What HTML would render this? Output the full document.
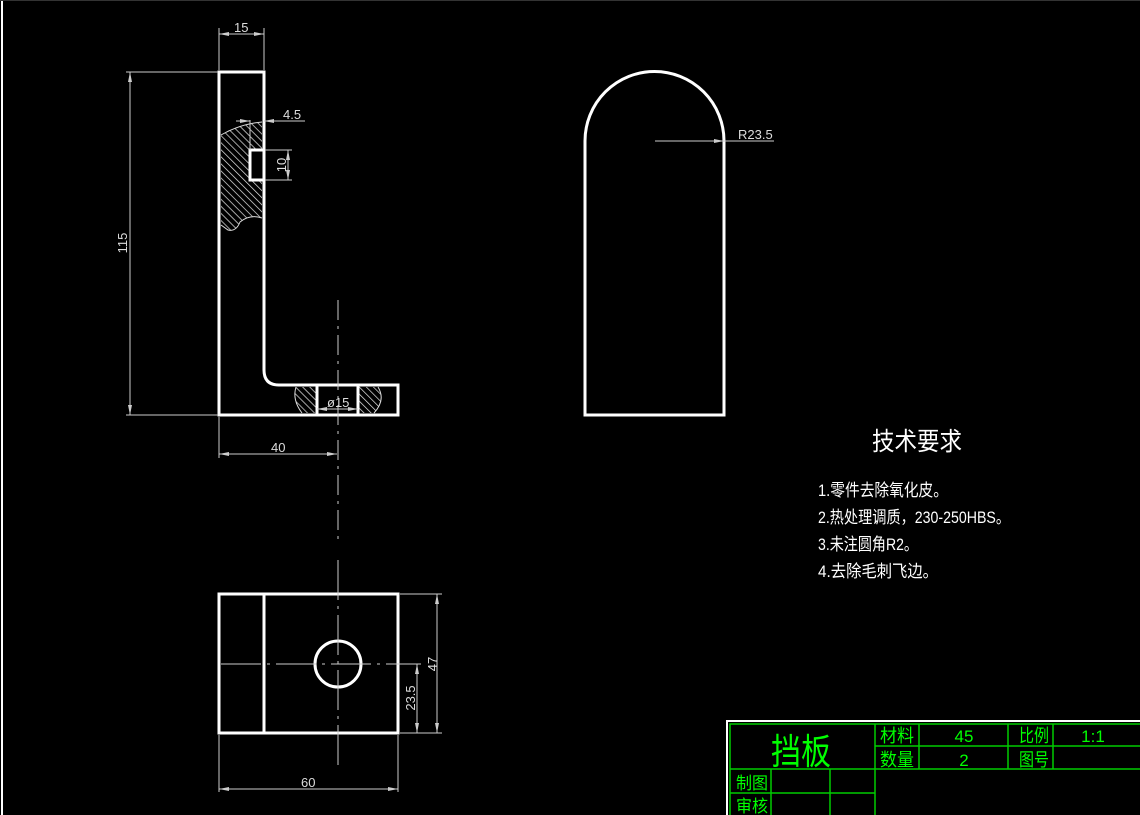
<!DOCTYPE html>
<html><head><meta charset="utf-8"><style>
html,body{margin:0;padding:0;background:#000;width:1140px;height:815px;overflow:hidden}
svg{display:block}
</style></head><body>
<svg width="1140" height="815" viewBox="0 0 1140 815" xmlns="http://www.w3.org/2000/svg">
<defs>
<pattern id="h" width="5" height="5" patternUnits="userSpaceOnUse" patternTransform="rotate(-45)">
<line x1="0" y1="0" x2="0" y2="5" stroke="#e8e8e8" stroke-width="1.4"/>
</pattern>
<marker id="a" viewBox="0 0 10 4" refX="10" refY="2" markerWidth="10" markerHeight="4" orient="auto-start-reverse" markerUnits="userSpaceOnUse"><path d="M0,0L10,2L0,4z" fill="#ccc"/></marker>
</defs>
<rect width="1140" height="815" fill="#000"/>
<line x1="2" y1="0" x2="2" y2="815" stroke="#fff" stroke-width="2"/>
<line x1="0" y1="0.5" x2="1140" y2="0.5" stroke="#333" stroke-width="1"/>

<!-- hatching side view -->
<path d="M221,135 Q240,124 262,122 L262,150 L250,150 L250,180 L262,180 L262,218 Q250,214 240,222 Q236,232 228,230 L221,225 Z" fill="url(#h)"/>
<path d="M296,387 L317,387 L317,413 L302,413 Q292,400 296,387Z" fill="url(#h)"/>
<path d="M358,387 L378,387 Q386,400 374,413 L358,413 Z" fill="url(#h)"/>
<g fill="none" stroke="#ddd" stroke-width="1">
<path d="M221,135 Q240,124 262,122"/>
<path d="M262,218 Q250,214 240,222 Q236,232 228,230 L221,225"/>
<path d="M296,387 Q292,400 302,413"/>
<path d="M378,387 Q386,400 374,413"/>
</g>

<g fill="none" stroke="#fff" stroke-width="3">
<path d="M219,72 L264,72 L264,370 Q264,385 279,385 L398,385 L398,415 L219,415 Z"/>
<rect x="250" y="150" width="14" height="30"/>
<line x1="317" y1="385" x2="317" y2="415"/>
<line x1="358" y1="385" x2="358" y2="415"/>
<path d="M585,415 L585,141 A69.5,69.5 0 0 1 724,141 L724,415 Z"/>
<rect x="219" y="594" width="179" height="139"/>
<line x1="264" y1="594" x2="264" y2="733"/>
<circle cx="338" cy="664" r="23"/>
</g>

<g stroke="#ccc" stroke-width="1" fill="none">
<line x1="219" y1="70" x2="219" y2="28"/><line x1="264" y1="70" x2="264" y2="28"/>
<line x1="219" y1="34" x2="264" y2="34" marker-start="url(#a)" marker-end="url(#a)"/>
<line x1="218" y1="72" x2="126" y2="72"/><line x1="218" y1="415" x2="126" y2="415"/>
<line x1="130" y1="72" x2="130" y2="415" marker-start="url(#a)" marker-end="url(#a)"/>
<line x1="250" y1="120" x2="250" y2="150"/>
<line x1="236" y1="121" x2="250" y2="121" marker-end="url(#a)"/>
<line x1="305" y1="121" x2="264" y2="121" marker-end="url(#a)"/>
<line x1="265" y1="150" x2="292" y2="150"/><line x1="265" y1="180" x2="292" y2="180"/>
<line x1="288" y1="150" x2="288" y2="180" marker-start="url(#a)" marker-end="url(#a)"/>
<line x1="317" y1="409" x2="358" y2="409" marker-start="url(#a)" marker-end="url(#a)"/>
<line x1="219" y1="417" x2="219" y2="458"/>
<line x1="219" y1="454" x2="337" y2="454" marker-start="url(#a)" marker-end="url(#a)"/>
<line x1="338" y1="300" x2="338" y2="545" stroke-dasharray="20,6,3,6"/>
<line x1="655" y1="141" x2="724" y2="141" marker-end="url(#a)"/>
<line x1="724" y1="141" x2="774" y2="141"/>
<line x1="221" y1="664" x2="420" y2="664" stroke-dasharray="40,6,3,6"/>
<line x1="338" y1="560" x2="338" y2="768" stroke-dasharray="40,6,3,6"/>
<line x1="400" y1="594" x2="442" y2="594"/><line x1="400" y1="733" x2="442" y2="733"/>
<line x1="437" y1="594" x2="437" y2="733" marker-start="url(#a)" marker-end="url(#a)"/>
<line x1="400" y1="664" x2="421" y2="664"/>
<line x1="417" y1="664" x2="417" y2="733" marker-start="url(#a)" marker-end="url(#a)"/>
<line x1="219" y1="735" x2="219" y2="792"/><line x1="398" y1="735" x2="398" y2="792"/>
<line x1="219" y1="789" x2="398" y2="789" marker-start="url(#a)" marker-end="url(#a)"/>
</g>

<g fill="#ddd" font-family="Liberation Sans, sans-serif" font-size="13">
<text x="234" y="32">15</text>
<text x="283" y="119">4.5</text>
<text x="286" y="165" transform="rotate(-90 286 165)" text-anchor="middle">10</text>
<text x="127" y="243" transform="rotate(-90 127 243)" text-anchor="middle">115</text>
<text x="327" y="407">ø15</text>
<text x="271" y="452">40</text>
<text x="738" y="139">R23.5</text>
<text x="437" y="664" transform="rotate(-90 437 664)" text-anchor="middle">47</text>
<text x="415" y="698" transform="rotate(-90 415 698)" text-anchor="middle">23.5</text>
<text x="301" y="787">60</text>
</g>

<g fill="#fff" font-family="Liberation Sans, 'Noto Sans CJK SC', sans-serif">
<text x="872" y="450" font-size="25" textLength="90" lengthAdjust="spacingAndGlyphs">技术要求</text>
<text x="818" y="496" font-size="17" textLength="130" lengthAdjust="spacingAndGlyphs">1.零件去除氧化皮。</text>
<text x="818" y="523" font-size="17" textLength="192" lengthAdjust="spacingAndGlyphs">2.热处理调质，230-250HBS。</text>
<text x="818" y="550" font-size="17" textLength="100" lengthAdjust="spacingAndGlyphs">3.未注圆角R2。</text>
<text x="818" y="577" font-size="17" textLength="120" lengthAdjust="spacingAndGlyphs">4.去除毛刺飞边。</text>
</g>

<path d="M727,815 L727,721 L1140,721" fill="none" stroke="#fff" stroke-width="2"/>
<g stroke="#0c0" stroke-width="1.5" fill="none">
<path d="M730,815 L730,724 L1140,724"/>
<line x1="875" y1="724" x2="875" y2="815"/>
<line x1="919" y1="724" x2="919" y2="769"/>
<line x1="1008" y1="724" x2="1008" y2="769"/>
<line x1="1053" y1="724" x2="1053" y2="769"/>
<line x1="875" y1="746" x2="1140" y2="746"/>
<line x1="730" y1="769" x2="1140" y2="769"/>
<line x1="730" y1="793" x2="875" y2="793"/>
<line x1="771" y1="769" x2="771" y2="815"/>
<line x1="830" y1="769" x2="830" y2="815"/>
</g>
<g fill="#0f0" font-family="Liberation Sans, 'Noto Sans CJK SC', sans-serif">
<text x="771" y="764" font-size="36" textLength="60" lengthAdjust="spacingAndGlyphs">挡板</text>
<text x="880" y="742" font-size="18" textLength="34" lengthAdjust="spacingAndGlyphs">材料</text>
<text x="880" y="766" font-size="18" textLength="34" lengthAdjust="spacingAndGlyphs">数量</text>
<text x="1019" y="742" font-size="18" textLength="30" lengthAdjust="spacingAndGlyphs">比例</text>
<text x="1019" y="766" font-size="18" textLength="30" lengthAdjust="spacingAndGlyphs">图号</text>
<text x="964" y="742" font-size="17" text-anchor="middle">45</text>
<text x="964" y="766" font-size="17" text-anchor="middle">2</text>
<text x="1093" y="742" font-size="17" text-anchor="middle">1:1</text>
<text x="736" y="789" font-size="17" textLength="32" lengthAdjust="spacingAndGlyphs">制图</text>
<text x="736" y="812" font-size="17" textLength="32" lengthAdjust="spacingAndGlyphs">审核</text>
</g>
</svg>
</body></html>
